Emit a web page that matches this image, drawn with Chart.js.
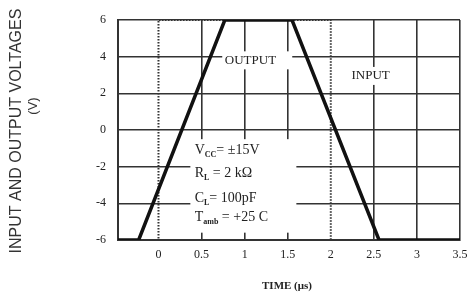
<!DOCTYPE html>
<html>
<head>
<meta charset="utf-8">
<script src="https://cdn.jsdelivr.net/npm/chart.js@4.4.1/dist/chart.umd.min.js"></script>
<style>
  body { margin: 0; background: #fff; }
  #wrap { width: 470px; height: 305px; }
</style>
</head>
<body>
<div id="wrap"><canvas id="chart" width="470" height="305"></canvas></div>
<script>
// output waveform (time in us, volts)
const outputTime = [-0.47, -0.23, 0.77, 1.55, 2.56, 3.5];
const outputVolts = [-6, -6, 6, 6, -6, -6];
// input pulse
const inputTime = [-0.47, 0, 0, 2, 2, 3.5];
const inputVolts = [-6, -6, 6, 6, -6, -6];
const xTicks = [0, 0.5, 1, 1.5, 2, 2.5, 3, 3.5];
const yTicks = [-6, -4, -2, 0, 2, 4, 6];

const notes = [
  { x: 0.42, y: -1.1, main: 'V', sub: 'CC', rest: '= \u00b115V' },
  { x: 0.42, y: -2.35, main: 'R', sub: 'L', rest: ' = 2 k\u03a9' },
  { x: 0.42, y: -3.7, main: 'C', sub: 'L', rest: '= 100pF' },
  { x: 0.42, y: -4.75, main: 'T', sub: 'amb', rest: ' = +25 C' }
];
const SERIF = '"Liberation Serif", "DejaVu Serif", serif';
const SANS = '"Liberation Sans", Arial, sans-serif';

// white boxes behind the labels hide the grid, text goes on top
const labelPlugin = {
  id: 'labels',
  beforeDatasetsDraw(chart) {
    const { ctx, scales: { x, y } } = chart;
    ctx.save();
    ctx.fillStyle = '#fff';
    ctx.fillRect(x.getPixelForValue(0.74), y.getPixelForValue(3.8) - 9, 70, 18);
    ctx.fillRect(x.getPixelForValue(2.2), y.getPixelForValue(2.95) - 9, 54, 18);
    const top = y.getPixelForValue(-0.5);
    ctx.fillRect(x.getPixelForValue(0.37), top, 106, y.getPixelForValue(-5.6) - top);
    ctx.restore();
  },
  afterDatasetsDraw(chart) {
    const { ctx, scales: { x, y } } = chart;
    ctx.save();
    ctx.textBaseline = 'middle';
    ctx.fillStyle = '#222';
    ctx.font = '13px ' + SERIF;
    ctx.fillText('OUTPUT', x.getPixelForValue(0.77), y.getPixelForValue(3.8));
    ctx.fillText('INPUT', x.getPixelForValue(2.24), y.getPixelForValue(2.95));
    notes.forEach(n => {
      let px = x.getPixelForValue(n.x);
      const py = y.getPixelForValue(n.y);
      ctx.font = '14px ' + SERIF;
      ctx.fillText(n.main, px, py);
      px += ctx.measureText(n.main).width;
      ctx.font = 'bold 8px ' + SERIF;
      ctx.fillText(n.sub, px, py + 5);
      px += ctx.measureText(n.sub).width;
      ctx.font = '14px ' + SERIF;
      ctx.fillText(n.rest, px, py);
    });
    // axis titles
    ctx.font = 'bold 11px ' + SERIF;
    ctx.textAlign = 'center';
    ctx.fillText('TIME (\u03bcs)', 287, 286);
    ctx.save();
    ctx.translate(17, 131);
    ctx.rotate(-Math.PI / 2);
    ctx.fillStyle = '#333';
    ctx.font = '16px ' + SANS;
    ctx.fillText('INPUT AND OUTPUT VOLTAGES', 0, 0);
    ctx.font = '13px ' + SANS;
    ctx.fillText('(V)', 25, 16);
    ctx.restore();
    ctx.restore();
  }
};

const ctx = document.getElementById('chart').getContext('2d');
new Chart(ctx, {
  type: 'scatter',
  data: {
    datasets: [
      {
        label: 'OUTPUT',
        data: outputTime.map((t, i) => ({ x: t, y: outputVolts[i] })),
        showLine: true,
        borderColor: '#111',
        borderWidth: 3.5,
        pointRadius: 0,
        order: 1
      },
      {
        label: 'INPUT',
        data: inputTime.map((t, i) => ({ x: t, y: inputVolts[i] })),
        showLine: true,
        borderColor: '#333',
        borderWidth: 2,
        borderDash: [1.5, 1.5],
        pointRadius: 0,
        order: 2
      }
    ]
  },
  options: {
    responsive: false,
    animation: false,
    layout: { padding: { top: 20, right: 10, left: 0, bottom: 0 } },
    plugins: { legend: { display: false }, tooltip: { enabled: false } },
    scales: {
      x: {
        type: 'linear',
        min: -0.47,
        max: 3.5,
        afterBuildTicks: s => { s.ticks = xTicks.map(v => ({ value: v })); },
        afterFit: s => { s.height = 65; s.paddingRight = 0; s.paddingLeft = 0; },
        grid: {
          color: c => (c.tick && (c.tick.value === 0 || c.tick.value === 2)) ? 'rgba(0,0,0,0)' : '#333',
          lineWidth: 1.6,
          drawTicks: false
        },
        border: { color: '#333', width: 2 },
        ticks: {
          color: '#222',
          font: { family: SERIF, size: 12 },
          padding: 8,
          maxRotation: 0,
          callback: v => String(v)
        }
      },
      y: {
        min: -6,
        max: 6,
        afterBuildTicks: s => { s.ticks = yTicks.map(v => ({ value: v })); },
        afterFit: s => { s.width = 118; },
        grid: { color: '#333', lineWidth: 1.6, drawTicks: false },
        border: { color: '#333', width: 2 },
        ticks: {
          color: '#222',
          font: { family: SERIF, size: 12 },
          padding: 12,
          callback: v => String(v)
        }
      }
    }
  },
  plugins: [labelPlugin]
});
</script>
</body>
</html>
